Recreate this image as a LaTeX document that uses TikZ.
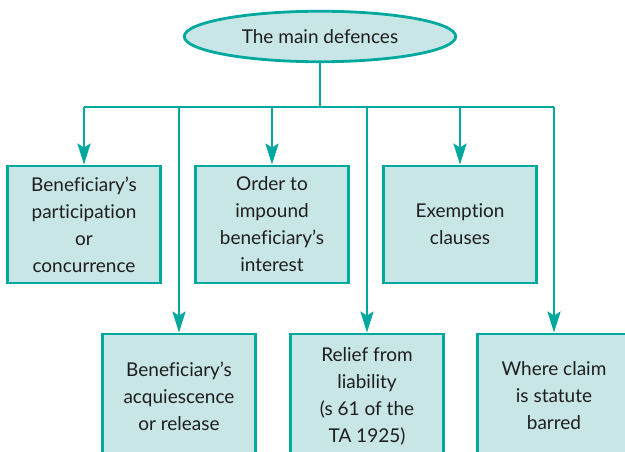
\documentclass[tikz,border=0pt]{standalone}
\usepackage{fontspec}
\setmainfont[Ligatures=NoCommon]{Lato}
\usetikzlibrary{arrows.meta,shapes.geometric}
\definecolor{tealline}{RGB}{0,168,158}
\definecolor{tealfill}{RGB}{201,230,230}
\definecolor{inktext}{RGB}{30,30,30}
\tikzset{
  link/.style={draw=tealline, line width=2.8pt},
  arrowlink/.style={link, -{Stealth[length=21pt,width=13pt,inset=4pt]}},
  defbox/.style={draw=tealline, fill=tealfill, line width=2.8pt,
    minimum width=152.5pt, minimum height=117pt, inner sep=0pt,
    align=center, text=inktext, font=\fontsize{19}{27}\selectfont},
  lowbox/.style={defbox, minimum height=124pt},
  rootoval/.style={ellipse, draw=tealline, fill=tealfill, line width=2.8pt,
    minimum width=271.5pt, minimum height=50.5pt, inner sep=0pt,
    text=inktext, font=\fontsize{19}{27}\selectfont},
}
\begin{document}
\begin{tikzpicture}[x=1pt,y=-1pt]
  \useasboundingbox (0,0) rectangle (625,452);
  \clip (0,0) rectangle (625,452);

  % root of the tree
  \node[rootoval] (main) at (320,36.5) {The main defences};

  % upper row of defences
  \node[defbox] (b1) at (84,224.5) {Beneficiary's\\participation\\or\\concurrence};
  \node[defbox] (b2) at (272,224.5) {Order to\\impound\\beneficiary's\\interest};
  \node[defbox] (b3) at (460,224.5) {Exemption\\clauses};

  % lower row of defences (running off the bottom edge)
  \node[lowbox] (b4) at (179,396) {Beneficiary's\\acquiescence\\or release};
  \node[lowbox] (b5) at (367,396) {Relief from\\liability\\(s 61 of the\\TA 1925)};
  \node[lowbox] (b6) at (554,396) {Where claim\\is statute\\barred};

  % horizontal distribution bus
  \coordinate (bus) at (320,107);
  \draw[link] (main.south) -- (main.south |- bus);
  \draw[link] (b1.north |- bus) -- (b6.north |- bus);

  % drops to each defence
  \foreach \b in {b1,b2,b3,b4,b5,b6}
    \draw[arrowlink] (\b.north |- bus) -- (\b.north);
\end{tikzpicture}
\end{document}
